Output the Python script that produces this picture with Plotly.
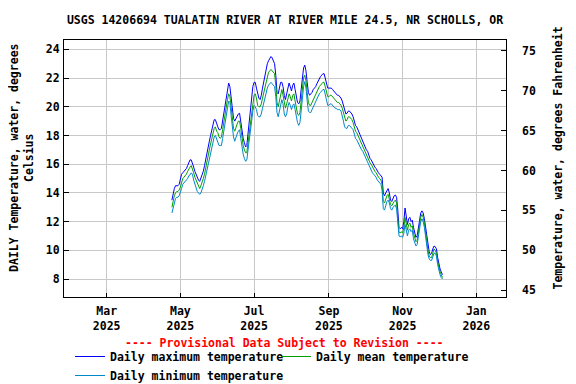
import pandas as pd
import plotly.graph_objects as go

# ---------------- data ----------------
start_date = "2025-04-24"

daily_max = [
    13.5, 14.0, 14.3, 14.5, 14.5, 14.5, 14.6, 14.9, 15.3, 15.4,
    15.5, 15.6, 15.7, 15.9, 16.1, 16.3, 16.3, 16.1, 15.8, 15.5,
    15.3, 15.0, 14.9, 14.8, 15.0, 15.2, 15.5, 15.9, 16.4, 16.9,
    17.3, 17.6, 18.0, 18.4, 18.8, 19.1, 19.1, 18.8, 18.6, 18.4,
    18.4, 18.5, 19.0, 19.7, 20.3, 20.8, 21.3, 21.65, 21.4, 20.6,
    19.8, 19.2, 19.0, 19.2, 19.4, 19.5, 19.55, 19.0, 18.2, 17.8,
    17.5, 17.2, 17.3, 18.2, 19.1, 19.8, 20.7, 21.4, 21.7, 21.7,
    21.3, 20.9, 20.6, 20.5, 20.8, 21.3, 21.8, 22.3, 22.7, 23.0,
    23.2, 23.4, 23.5, 23.4, 23.2, 23.0, 22.2, 21.0, 20.9, 21.3,
    21.7, 21.7, 21.4, 20.8, 20.5, 20.9, 21.4, 21.65, 21.4, 21.1,
    21.5, 21.65, 21.2, 20.6, 20.3, 20.2, 20.4, 21.2, 22.1, 22.7,
    22.9, 22.5, 21.7, 21.0, 20.8, 20.9, 21.0, 21.2, 21.3, 21.4,
    21.6, 21.8, 22.0, 22.1, 22.2, 22.3, 22.3, 21.9, 21.5, 21.3,
    21.3, 21.3, 21.3, 21.2, 21.1, 21.0, 20.9, 20.8, 20.8, 20.7,
    20.6, 20.4, 20.1, 19.7, 19.5, 19.55, 19.7, 19.7, 19.6, 19.5,
    19.3, 19.0, 18.7, 18.6, 18.4, 18.2, 17.9, 17.8, 17.6, 17.4,
    17.2, 17.0, 16.9, 16.6, 16.4, 16.3, 16.1, 15.9, 15.8, 15.7,
    15.5, 15.4, 15.3, 15.2, 15.1, 14.0, 13.8, 14.0, 14.2, 14.3,
    14.0, 13.5, 13.4, 13.6, 13.8, 13.85, 13.7, 12.8, 11.6, 11.5,
    11.6, 11.5, 12.0, 12.95, 12.2, 11.8, 12.2, 12.3, 12.0, 12.1,
    11.6, 11.1, 10.9, 11.0, 11.6, 12.3, 12.6, 12.75, 12.6, 12.2,
    11.6, 10.8, 10.3, 9.9, 9.7, 9.8, 10.1, 10.3, 10.25, 10.1,
    9.5, 9.0, 8.7, 8.5, 8.3,
]

daily_mean = [
    13.0, 13.5, 13.8, 14.0, 14.1, 14.1, 14.2, 14.4, 14.8, 15.0,
    15.1, 15.2, 15.3, 15.5, 15.7, 15.8, 15.9, 15.7, 15.4, 15.1,
    14.9, 14.6, 14.4, 14.3, 14.5, 14.7, 15.0, 15.3, 15.8, 16.3,
    16.7, 17.0, 17.4, 17.8, 18.2, 18.5, 18.6, 18.3, 18.2, 17.9,
    17.8, 17.9, 18.4, 19.0, 19.5, 20.0, 20.5, 20.9, 20.7, 20.0,
    19.2, 18.5, 18.3, 18.6, 18.8, 19.0, 19.0, 18.5, 17.7, 17.3,
    17.0, 16.8, 16.8, 17.5, 18.3, 19.0, 19.8, 20.5, 20.8, 20.9,
    20.6, 20.1, 20.0, 20.0, 20.2, 20.6, 21.0, 21.4, 21.8, 22.1,
    22.4, 22.5, 22.6, 22.5, 22.4, 22.3, 21.5, 20.3, 20.0, 20.5,
    21.0, 21.2, 20.8, 20.2, 19.9, 20.2, 20.7, 20.9, 20.7, 20.4,
    20.8, 20.9, 20.4, 19.9, 19.5, 19.4, 19.6, 20.4, 21.3, 22.0,
    22.2, 21.8, 21.0, 20.3, 20.1, 20.1, 20.3, 20.5, 20.7, 20.8,
    21.0, 21.2, 21.4, 21.5, 21.6, 21.7, 21.7, 21.3, 20.9, 20.7,
    20.7, 20.8, 20.8, 20.7, 20.6, 20.5, 20.4, 20.3, 20.3, 20.2,
    20.1, 19.9, 19.6, 19.2, 19.0, 19.1, 19.3, 19.3, 19.2, 19.1,
    18.9, 18.6, 18.3, 18.2, 18.0, 17.8, 17.6, 17.5, 17.3, 17.1,
    16.9, 16.7, 16.5, 16.3, 16.1, 16.0, 15.8, 15.6, 15.5, 15.4,
    15.2, 15.1, 15.0, 14.9, 14.6, 13.4, 13.3, 13.6, 13.8, 13.9,
    13.6, 13.2, 13.1, 13.3, 13.4, 13.5, 13.3, 12.2, 11.3, 11.2,
    11.3, 11.2, 11.6, 12.3, 11.8, 11.4, 11.8, 11.9, 11.6, 11.7,
    11.2, 10.8, 10.6, 10.7, 11.3, 12.0, 12.3, 12.5, 12.3, 11.9,
    11.2, 10.5, 10.0, 9.6, 9.5, 9.5, 9.8, 10.1, 10.0, 9.8,
    9.2, 8.8, 8.5, 8.3, 8.1,
]

daily_min = [
    12.6, 13.0, 13.3, 13.6, 13.7, 13.7, 13.8, 14.0, 14.3, 14.6,
    14.7, 14.8, 14.9, 15.0, 15.2, 15.25, 15.4, 15.3, 14.9, 14.6,
    14.4, 14.1, 14.0, 13.9, 14.0, 14.2, 14.5, 14.8, 15.2, 15.7,
    16.1, 16.4, 16.8, 17.2, 17.6, 17.9, 18.0, 17.8, 17.6, 17.3,
    17.3, 17.3, 17.8, 18.4, 18.9, 19.4, 19.9, 20.4, 20.3, 19.4,
    18.6, 17.9, 17.6, 17.9, 18.1, 18.3, 18.4, 17.8, 17.1, 16.7,
    16.4, 16.2, 16.3, 16.9, 17.5, 18.2, 19.0, 19.7, 20.1, 20.0,
    19.8, 19.4, 19.3, 19.3, 19.5, 19.9, 20.3, 20.7, 21.0, 21.3,
    21.5, 21.6, 21.7, 21.6, 21.5, 21.4, 20.7, 19.6, 19.3, 19.8,
    20.3, 20.5, 20.2, 19.5, 19.3, 19.5, 20.0, 20.3, 20.1, 19.8,
    20.1, 20.2, 19.8, 19.3, 18.9, 18.7, 18.9, 19.7, 20.6, 21.4,
    21.75, 21.3, 20.4, 19.7, 19.6, 19.6, 19.8, 20.0, 20.2, 20.3,
    20.5, 20.7, 20.9, 21.0, 21.1, 21.2, 21.2, 20.8, 20.3, 20.1,
    20.1, 20.2, 20.2, 20.1, 20.0, 19.9, 19.9, 19.8, 19.8, 19.8,
    19.7, 19.4, 19.0, 18.6, 18.5, 18.5, 18.7, 18.7, 18.6, 18.5,
    18.4, 18.1, 17.8, 17.7, 17.5, 17.3, 17.1, 17.0, 16.9, 16.7,
    16.5, 16.3, 16.2, 16.0, 15.8, 15.6, 15.4, 15.3, 15.2, 15.1,
    14.9, 14.8, 14.7, 14.6, 14.2, 12.9, 12.8, 13.2, 13.4, 13.5,
    13.3, 12.9, 12.8, 13.0, 13.1, 13.15, 12.9, 11.8, 11.0, 10.95,
    11.0, 10.9, 11.2, 11.8, 11.4, 11.0, 11.4, 11.5, 11.3, 11.4,
    10.8, 10.5, 10.3, 10.4, 11.0, 11.6, 12.0, 12.2, 12.0, 11.6,
    10.9, 10.2, 9.7, 9.4, 9.3, 9.3, 9.6, 9.8, 9.8, 9.6,
    9.0, 8.6, 8.3, 8.1, 8.0,
]

month_ticks = ["2025-03-01", "2025-05-01", "2025-07-01", "2025-09-01", "2025-11-01", "2026-01-01"]
month_labels = ["Mar<br>2025", "May<br>2025", "Jul<br>2025", "Sep<br>2025", "Nov<br>2025", "Jan<br>2026"]
celsius_ticks = [8, 10, 12, 14, 16, 18, 20, 22, 24]
fahrenheit_ticks = [45, 50, 55, 60, 65, 70, 75]

dates = pd.date_range(start_date, periods=len(daily_mean), freq="D")

FONT = "DejaVu Sans Mono"
fnt = dict(family=FONT, size=11.5, color="black", weight="bold")

# the page body adds an 8 px offset, so the figure is 8 px smaller than the window
OFF = 8
W, H = 576 - OFF, 384 - OFF
L, T = 64 - OFF, 40 - OFF
PW, PH = 442, 257
R, B = W - L - PW, H - T - PH


def px(xs):  # screen x -> paper x
    return (xs - OFF - L) / PW


def py(ys):  # screen y -> paper y
    return (T + PH - (ys - OFF)) / PH


fig = go.Figure()
fig.add_trace(go.Scatter(x=dates, y=daily_max, mode="lines", name="Daily maximum temperature",
                         line=dict(color="#0000ff", width=1), legendrank=1))
fig.add_trace(go.Scatter(x=dates, y=daily_mean, mode="lines", name="Daily mean temperature",
                         line=dict(color="#00a000", width=1), legendrank=2))
fig.add_trace(go.Scatter(x=dates, y=daily_min, mode="lines", name="Daily minimum temperature",
                         line=dict(color="#0088cc", width=1), legendrank=3))
# empty trace to bind the Fahrenheit axis
fig.add_trace(go.Scatter(x=[None], y=[None], yaxis="y2", showlegend=False, hoverinfo="skip"))

c_lo, c_hi = 6.75, 24.65
fig.update_layout(
    template="none",
    width=W, height=H,
    margin=dict(l=L, r=R, t=T, b=B, autoexpand=False),
    paper_bgcolor="white", plot_bgcolor="white",
    font=fnt,
    title=dict(text="USGS 14206694 TUALATIN RIVER AT RIVER MILE 24.5, NR SCHOLLS, OR",
               x=px(285), xref="paper", xanchor="center", y=1 - (20 - OFF) / H, yref="container",
               yanchor="middle", font=fnt),
    xaxis=dict(range=["2025-01-24 16:00", "2026-01-25 14:00"], tickvals=month_ticks,
               ticktext=month_labels, showgrid=True, gridcolor="#c8c8c8", gridwidth=1,
               ticks="inside", ticklen=4, tickcolor="black", showline=True, linecolor="black",
               linewidth=1, mirror=True, zeroline=False, tickfont=fnt, automargin=False,
               ticklabelstandoff=3),
    yaxis=dict(range=[c_lo, c_hi], tickvals=celsius_ticks, showgrid=True, gridcolor="#c8c8c8",
               gridwidth=1, ticks="inside", ticklen=5, tickcolor="black", showline=True,
               linecolor="black", linewidth=1, mirror=True, zeroline=False, tickfont=fnt,
               ticklabelstandoff=1, automargin=False),
    yaxis2=dict(range=[c_lo * 9 / 5 + 32, c_hi * 9 / 5 + 32], tickvals=fahrenheit_ticks,
                overlaying="y", side="right", anchor="x", showgrid=False, ticks="inside",
                ticklen=5, tickcolor="black", zeroline=False, showline=False, tickfont=fnt,
                ticklabelstandoff=15, automargin=False),
    legend=dict(orientation="h", x=px(70), xanchor="left", y=py(342),
                yanchor="top", entrywidth=161, font=fnt, bgcolor="rgba(0,0,0,0)",
                tracegroupgap=0, itemwidth=30),
    showlegend=True,
)

fig.add_annotation(text="---- Provisional Data Subject to Revision ----", xref="paper", yref="paper",
                   x=px(284.5), y=py(342.7), xanchor="center", yanchor="middle",
                   showarrow=False, font=dict(family=FONT, size=11.5, color="red", weight="bold"))
fig.add_annotation(text="DAILY Temperature, water, degrees<br>Celsius", xref="paper", yref="paper",
                   x=px(21), y=py(158), xanchor="center", yanchor="middle",
                   textangle=-90, showarrow=False, font=fnt)
fig.add_annotation(text="Temperature, water, degrees Fahrenheit", xref="paper", yref="paper",
                   x=px(557), y=py(158.5), xanchor="center", yanchor="middle",
                   textangle=-90, showarrow=False, font=fnt)

fig.write_html("out.html")
